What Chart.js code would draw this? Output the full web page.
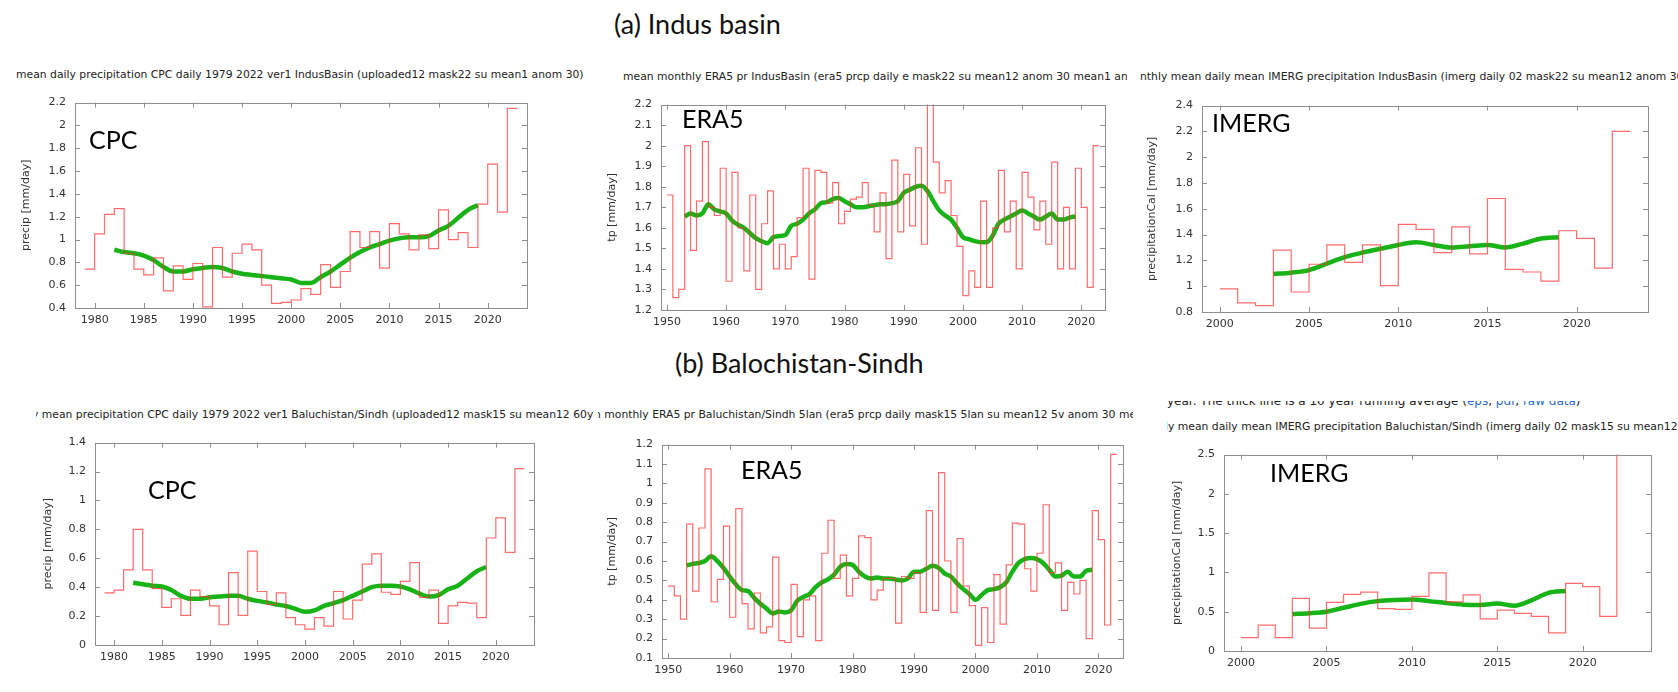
<!DOCTYPE html>
<html>
<head>
<meta charset="utf-8">
<script src="https://cdn.jsdelivr.net/npm/chart.js@4.4.1/dist/chart.umd.min.js"></script>
<style>
  body { margin: 0; width: 1678px; height: 692px; background: #fff; position: relative; overflow: hidden; }
  canvas { position: absolute; }
  .sub { position: absolute; white-space: nowrap; overflow: hidden; font-family: "DejaVu Sans"; font-size: 10.8px; line-height: 12px; color: #222; }
  .sub span { position: relative; }
  .big { position: absolute; white-space: nowrap; font-family: Lato; font-size: 27px; line-height: 27px; color: #111; }
  .lab { position: absolute; white-space: nowrap; font-family: Lato; font-size: 25px; line-height: 25px; color: #000; }
  a { color: #2a6ad0; text-decoration: none; }
</style>
</head>
<body>

<div class="big" style="left:614px; top:10px;">(a) Indus basin</div>
<div class="big" style="left:675px; top:349px;">(b) Balochistan-Sindh</div>

<div class="sub" style="left:16px; top:69px; width:600px;">mean daily precipitation CPC daily 1979 2022 ver1 IndusBasin (uploaded12 mask22 su mean1 anom 30)</div>
<div class="sub" style="left:623px; top:71px; width:504px;">mean monthly ERA5 pr IndusBasin (era5 prcp daily e mask22 su mean12 anom 30 mean1 anom 30)</div>
<div class="sub" style="left:1140px; top:71px; width:538px;">nthly mean daily mean IMERG precipitation IndusBasin (imerg daily 02 mask22 su mean12 anom 30)</div>
<div class="sub" style="left:36px; top:409px; width:558px;"><span style="left:-4px">y mean precipitation CPC daily 1979 2022 ver1 Baluchistan/Sindh (uploaded12 mask15 su mean12 60yr)</span></div>
<div class="sub" style="left:598px; top:409px; width:535px;"><span style="left:-4px">n monthly ERA5 pr Baluchistan/Sindh 5lan (era5 prcp daily mask15 5lan su mean12 5v anom 30 mean1)</span></div>
<div class="sub" style="left:1167px; top:401px; width:511px; height:7px; font-size:12px;"><span style="top:-6px">year. The thick line is a 10 year running average (<a>eps</a>, <a>pdf</a>, <a>raw data</a>)</span></div>
<div class="sub" style="left:1167px; top:421px; width:511px;"><span style="left:-2px">ly mean daily mean IMERG precipitation Baluchistan/Sindh (imerg daily 02 mask15 su mean12 anom 30)</span></div>

<script>
// ---- data ----
const cpcYears = [1979,1980,1981,1982,1983,1984,1985,1986,1987,1988,1989,1990,1991,1992,1993,1994,1995,1996,1997,1998,1999,2000,2001,2002,2003,2004,2005,2006,2007,2008,2009,2010,2011,2012,2013,2014,2015,2016,2017,2018,2019,2020,2021,2022];
const cpcAvgYears = cpcYears.slice(3, 41);   // 1982..2019
const era5Years = [1950,1951,1952,1953,1954,1955,1956,1957,1958,1959,1960,1961,1962,1963,1964,1965,1966,1967,1968,1969,1970,1971,1972,1973,1974,1975,1976,1977,1978,1979,1980,1981,1982,1983,1984,1985,1986,1987,1988,1989,1990,1991,1992,1993,1994,1995,1996,1997,1998,1999,2000,2001,2002,2003,2004,2005,2006,2007,2008,2009,2010,2011,2012,2013,2014,2015,2016,2017,2018,2019,2020,2021,2022];
const era5AvgYears = era5Years.slice(3, 70);  // 1953..2019
const imergYears = [2000,2001,2002,2003,2004,2005,2006,2007,2008,2009,2010,2011,2012,2013,2014,2015,2016,2017,2018,2019,2020,2021,2022];
const imergAvgYears = imergYears.slice(3, 20); // 2003..2019

const cpcIndus = [0.74,1.05,1.22,1.27,0.88,0.74,0.69,0.84,0.55,0.77,0.65,0.79,0.41,0.93,0.67,0.88,0.96,0.91,0.60,0.44,0.45,0.47,0.57,0.52,0.78,0.58,0.72,1.07,0.93,1.07,0.75,1.14,1.05,0.91,1.04,0.92,1.26,1.00,1.06,0.93,1.31,1.66,1.24,2.15];
const cpcIndusAvg = [0.91,0.89,0.88,0.86,0.82,0.76,0.72,0.72,0.74,0.75,0.76,0.75,0.72,0.70,0.69,0.68,0.67,0.66,0.65,0.62,0.62,0.67,0.72,0.78,0.84,0.89,0.93,0.96,0.99,1.01,1.02,1.02,1.03,1.08,1.12,1.19,1.26,1.30];

const era5Indus = [1.76,1.26,1.30,2.00,1.49,1.73,2.02,1.70,1.66,1.89,1.34,1.87,1.60,1.39,1.76,1.30,1.62,1.78,1.40,1.52,1.40,1.46,1.65,1.89,1.35,1.88,1.87,1.72,1.82,1.62,1.68,1.74,1.75,1.82,1.71,1.58,1.77,1.45,1.93,1.58,1.86,1.61,1.99,1.52,2.25,1.92,1.77,1.83,1.66,1.51,1.27,1.39,1.31,1.73,1.31,1.60,1.88,1.58,1.73,1.40,1.87,1.75,1.59,1.73,1.52,1.92,1.40,1.70,1.40,1.89,1.70,1.31,2.00];
const era5IndusAvg = [1.655,1.67,1.66,1.67,1.715,1.69,1.68,1.67,1.635,1.615,1.60,1.575,1.55,1.535,1.525,1.555,1.56,1.565,1.61,1.62,1.64,1.67,1.69,1.72,1.725,1.74,1.745,1.73,1.715,1.70,1.70,1.705,1.71,1.715,1.715,1.72,1.73,1.77,1.785,1.80,1.805,1.78,1.73,1.685,1.66,1.64,1.60,1.555,1.545,1.535,1.53,1.53,1.56,1.62,1.64,1.655,1.67,1.685,1.67,1.655,1.64,1.655,1.67,1.64,1.64,1.65,1.655];

const imergIndus = [0.98,0.87,0.85,1.28,0.955,1.17,1.32,1.185,1.32,1.005,1.48,1.44,1.26,1.46,1.25,1.68,1.13,1.11,1.04,1.43,1.37,1.14,2.20];
const imergIndusAvg = [1.095,1.105,1.125,1.175,1.225,1.26,1.29,1.32,1.34,1.32,1.30,1.31,1.32,1.30,1.33,1.37,1.38];

const cpcBal = [0.36,0.38,0.52,0.80,0.52,0.39,0.26,0.32,0.205,0.38,0.335,0.27,0.14,0.50,0.205,0.65,0.37,0.28,0.36,0.19,0.14,0.11,0.19,0.13,0.37,0.18,0.31,0.56,0.63,0.365,0.35,0.44,0.57,0.33,0.38,0.15,0.27,0.295,0.29,0.19,0.74,0.88,0.64,1.22];
const cpcBalAvg = [0.43,0.42,0.41,0.405,0.38,0.34,0.32,0.32,0.33,0.335,0.34,0.34,0.32,0.305,0.295,0.28,0.27,0.25,0.23,0.24,0.27,0.29,0.31,0.34,0.37,0.40,0.41,0.41,0.405,0.385,0.355,0.335,0.345,0.385,0.41,0.46,0.51,0.54];

const era5Bal = [0.47,0.42,0.30,0.79,0.445,0.77,1.075,0.39,0.505,0.78,0.31,0.87,0.38,0.25,0.435,0.23,0.26,0.62,0.19,0.18,0.48,0.21,0.40,0.42,0.19,0.64,0.81,0.51,0.63,0.42,0.51,0.73,0.72,0.40,0.45,0.51,0.51,0.28,0.52,0.51,0.54,0.335,0.86,0.345,1.056,0.60,0.335,0.715,0.47,0.37,0.165,0.36,0.18,0.53,0.275,0.58,0.795,0.79,0.56,0.445,0.64,0.89,0.54,0.59,0.345,0.49,0.43,0.50,0.20,0.86,0.71,0.27,1.15];
const era5BalAvg = [0.577,0.585,0.59,0.60,0.625,0.60,0.565,0.52,0.48,0.45,0.445,0.41,0.38,0.355,0.33,0.34,0.335,0.345,0.395,0.415,0.43,0.465,0.49,0.505,0.53,0.57,0.585,0.58,0.545,0.52,0.51,0.515,0.51,0.51,0.505,0.50,0.51,0.545,0.545,0.56,0.575,0.565,0.535,0.52,0.485,0.455,0.43,0.40,0.425,0.45,0.455,0.465,0.49,0.545,0.59,0.61,0.615,0.61,0.59,0.555,0.52,0.525,0.545,0.52,0.52,0.55,0.555];

const imergBal = [0.17,0.33,0.17,0.67,0.29,0.62,0.72,0.75,0.54,0.53,0.695,0.995,0.625,0.715,0.41,0.52,0.48,0.44,0.23,0.86,0.82,0.44,2.6];
const imergBalAvg = [0.47,0.48,0.50,0.55,0.60,0.635,0.65,0.655,0.635,0.61,0.59,0.585,0.605,0.575,0.645,0.74,0.765];

// tick labels
const cpcXTicks = [1980,1985,1990,1995,2000,2005,2010,2015,2020];
const era5XTicks = [1950,1960,1970,1980,1990,2000,2010,2020];
const imergXTicks = [2000,2005,2010,2015,2020];
const cpcIndusYTicks = [0.4,0.6,0.8,1,1.2,1.4,1.6,1.8,2,2.2];
const era5IndusYTicks = [1.2,1.3,1.4,1.5,1.6,1.7,1.8,1.9,2,2.1,2.2];
const imergIndusYTicks = [0.8,1,1.2,1.4,1.6,1.8,2,2.2,2.4];
const cpcBalYTicks = [0,0.2,0.4,0.6,0.8,1,1.2,1.4];
const era5BalYTicks = [0.1,0.2,0.3,0.4,0.5,0.6,0.7,0.8,0.9,1,1.1,1.2];
const imergBalYTicks = [0,0.5,1,1.5,2,2.5];

// ---- drawing ----
const frame = {
  id: 'frame',
  afterDatasetsDraw(chart) {
    const { ctx, chartArea: a, scales: { x, y } } = chart;
    ctx.save();
    ctx.strokeStyle = '#8f8f8f';
    ctx.lineWidth = 1;
    ctx.beginPath();
    x.ticks.forEach(t => {
      const px = Math.round(x.getPixelForValue(t.value)) + 0.5;
      ctx.moveTo(px, a.bottom); ctx.lineTo(px, a.bottom - 5);
      ctx.moveTo(px, a.top); ctx.lineTo(px, a.top + 5);
    });
    y.ticks.forEach(t => {
      const py = Math.round(y.getPixelForValue(t.value)) + 0.5;
      ctx.moveTo(a.left, py); ctx.lineTo(a.left + 5, py);
      ctx.moveTo(a.right, py); ctx.lineTo(a.right - 5, py);
    });
    ctx.stroke();
    ctx.strokeRect(Math.round(a.left) + 0.5, Math.round(a.top) + 0.5, Math.round(a.width), Math.round(a.height));
    ctx.restore();
  }
};

const tickFont = { family: 'DejaVu Sans', size: 11 };
const fmt = v => String(+Number(v).toFixed(2));

function panel(p) {
  const padT = 8, padR = 8, hx = 30;
  const wy = Math.round(p.L - (p.titleX - 6.6));
  const w = p.R - p.L + wy + padR;
  const h = p.B - p.T + padT + hx;
  const cv = document.createElement('canvas');
  cv.width = w; cv.height = h;
  cv.style.left = (p.L - wy) + 'px';
  cv.style.top = (p.T - padT) + 'px';
  cv.style.width = w + 'px';
  cv.style.height = h + 'px';
  document.body.insertBefore(cv, document.body.firstChild);

  // yearly value held from year to year+1
  const steps = p.years.map((yr, i) => ({ x: yr, y: p.vals[i] }));
  steps.push({ x: p.years[p.years.length - 1] + 1, y: p.vals[p.vals.length - 1] });
  const avg = p.avgYears.map((yr, i) => ({ x: yr, y: p.avg[i] }));

  new Chart(cv, {
    type: 'line',
    data: {
      datasets: [
        { data: steps, stepped: 'before', borderColor: 'rgba(255,50,50,0.72)', borderWidth: 1.2, pointRadius: 0 },
        { data: avg, borderColor: '#17b317', borderWidth: 4.5, pointRadius: 0, cubicInterpolationMode: 'monotone' }
      ]
    },
    options: {
      responsive: false,
      devicePixelRatio: 1,
      animation: false,
      layout: { padding: { left: 0, top: padT, right: padR, bottom: 0 } },
      plugins: { legend: { display: false }, tooltip: { enabled: false } },
      scales: {
        x: {
          type: 'linear', min: p.xmin, max: p.xmax,
          grid: { display: false, drawTicks: false },
          border: { display: false },
          afterBuildTicks: s => { s.ticks = p.xticks.map(v => ({ value: v })); },
          afterFit: s => { s.height = hx; },
          ticks: { font: tickFont, color: '#333', padding: 6, maxRotation: 0, autoSkip: false, callback: fmt }
        },
        y: {
          min: p.ymin, max: p.ymax,
          grid: { display: false, drawTicks: false },
          border: { display: false },
          afterBuildTicks: s => { s.ticks = p.yticks.map(v => ({ value: v })); },
          afterFit: s => { s.width = wy; },
          ticks: { font: tickFont, color: '#333', padding: 9, autoSkip: false, callback: fmt },
          title: { display: true, text: p.ytitle, font: tickFont, color: '#333', padding: 0 }
        }
      }
    },
    plugins: [frame]
  });
}

panel({ L: 75, R: 527, T: 95, B: 308, titleX: 27, ytitle: 'precip [mm/day]',
  xmin: 1978, xmax: 2024, ymin: 0.4, ymax: 2.2, xticks: cpcXTicks, yticks: cpcIndusYTicks,
  years: cpcYears, vals: cpcIndus, avgYears: cpcAvgYears, avg: cpcIndusAvg });
panel({ L: 661, R: 1105, T: 97, B: 310, titleX: 613, ytitle: 'tp [mm/day]',
  xmin: 1949, xmax: 2024, ymin: 1.2, ymax: 2.2, xticks: era5XTicks, yticks: era5IndusYTicks,
  years: era5Years, vals: era5Indus, avgYears: era5AvgYears, avg: era5IndusAvg });
panel({ L: 1202, R: 1648, T: 98, B: 312, titleX: 1153, ytitle: 'precipitationCal [mm/day]',
  xmin: 1999, xmax: 2024, ymin: 0.8, ymax: 2.4, xticks: imergXTicks, yticks: imergIndusYTicks,
  years: imergYears, vals: imergIndus, avgYears: imergAvgYears, avg: imergIndusAvg });
panel({ L: 95, R: 534, T: 435, B: 645, titleX: 49, ytitle: 'precip [mm/day]',
  xmin: 1978, xmax: 2024, ymin: 0, ymax: 1.4, xticks: cpcXTicks, yticks: cpcBalYTicks,
  years: cpcYears, vals: cpcBal, avgYears: cpcAvgYears, avg: cpcBalAvg });
panel({ L: 662, R: 1123, T: 437, B: 658, titleX: 613, ytitle: 'tp [mm/day]',
  xmin: 1949, xmax: 2024, ymin: 0.1, ymax: 1.2, xticks: era5XTicks, yticks: era5BalYTicks,
  years: era5Years, vals: era5Bal, avgYears: era5AvgYears, avg: era5BalAvg });
panel({ L: 1224, R: 1651, T: 447, B: 651, titleX: 1178, ytitle: 'precipitationCal [mm/day]',
  xmin: 1999, xmax: 2024, ymin: 0, ymax: 2.5, xticks: imergXTicks, yticks: imergBalYTicks,
  years: imergYears, vals: imergBal, avgYears: imergAvgYears, avg: imergBalAvg });
</script>

<div class="lab" style="left:89px; top:127px;">CPC</div>
<div class="lab" style="left:682px; top:106px;">ERA5</div>
<div class="lab" style="left:1212px; top:110px;">IMERG</div>
<div class="lab" style="left:148px; top:477px;">CPC</div>
<div class="lab" style="left:741px; top:457px;">ERA5</div>
<div class="lab" style="left:1270px; top:460px;">IMERG</div>

</body>
</html>
